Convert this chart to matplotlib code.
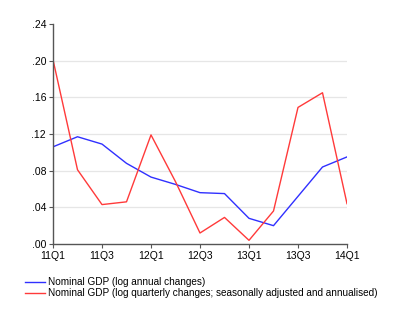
import numpy as np
import matplotlib
matplotlib.use("Agg")
import matplotlib.pyplot as plt

quarters = ["11Q1", "11Q2", "11Q3", "11Q4", "12Q1", "12Q2", "12Q3", "12Q4",
            "13Q1", "13Q2", "13Q3", "13Q4", "14Q1"]
annual = [0.106, 0.117, 0.109, 0.088, 0.073, 0.065, 0.056, 0.055,
          0.028, 0.020, 0.052, 0.084, 0.095]
quarterly = [0.201, 0.081, 0.043, 0.046, 0.119, 0.068, 0.012, 0.029,
             0.004, 0.036, 0.149, 0.165, 0.044]
yticks = [0.0, 0.04, 0.08, 0.12, 0.16, 0.20, 0.24]
ylabels = [".00", ".04", ".08", ".12", ".16", ".20", ".24"]

plt.rcParams['font.family'] = ['Liberation Sans', 'DejaVu Sans']

fig = plt.figure(figsize=(4.0, 3.24), dpi=100)
ax = fig.add_axes([53/400, 1-244/324, 294/400, 220/324])

x = np.arange(len(quarters))
l1, = ax.plot(x, annual, color="#3030ff", lw=1.0)
l2, = ax.plot(x, quarterly, color="#ff3a3a", lw=1.0)

ax.set_xlim(0, len(quarters) - 1)
ax.set_ylim(0, 0.24)
ax.set_yticks(yticks)
ax.set_yticklabels(ylabels)
ax.set_xticks(x[::2])
ax.set_xticklabels(quarters[::2])
for t in yticks[1:-1]:
    ax.axhline(t, color="#e6e6e6", lw=0.9, zorder=0)

for s in ["top", "right"]:
    ax.spines[s].set_visible(False)
for s in ["left", "bottom"]:
    ax.spines[s].set_color("#555555")
    ax.spines[s].set_linewidth(1.0)
ax.tick_params(axis="both", labelsize=7.5, colors="#555555", labelcolor="black",
               length=3, width=0.8, pad=2)

fig.legend([l1, l2], ["Nominal GDP (log annual changes)",
                      "Nominal GDP (log quarterly changes; seasonally adjusted and annualised)"],
           loc="upper left", bbox_to_anchor=(25/400, 1-277/324), frameon=False,
           fontsize=7.2, handlelength=1.95, handletextpad=0.3, labelspacing=0.12,
           borderpad=0, borderaxespad=0)

fig.savefig("out.png", dpi=100)
